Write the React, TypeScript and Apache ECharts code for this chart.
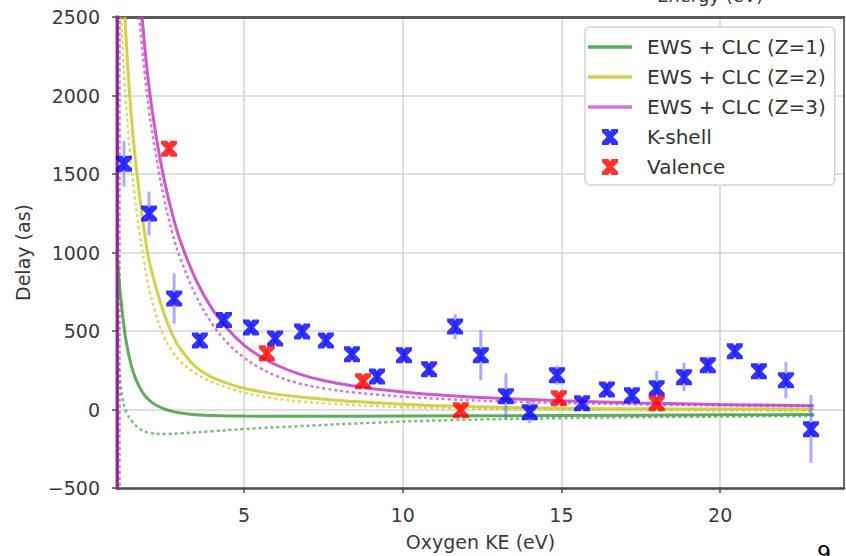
import React, { useEffect, useRef } from "react";
import * as echarts from "echarts";

// ---- data ----
const xTicks = [5, 10, 15, 20];

const kshellX = [1.22, 2.01, 2.8, 3.61, 4.37, 5.22, 5.98, 6.83, 7.58, 8.4, 9.19, 10.04, 10.83, 11.65, 12.46, 13.25, 14.0, 14.86, 15.65, 16.43, 17.22, 18.0, 18.86, 19.61, 20.46, 21.22, 22.07, 22.86];
const kshellY = [1565, 1248, 707, 440, 570, 523, 453, 497, 440, 352, 210, 346, 257, 528, 346, 85, -17, 218, 40, 128, 91, 136, 206, 282, 371, 243, 187, -125];
const kshellErr = [146, 140, 160, 40, 40, 30, 30, 30, 30, 30, 30, 30, 30, 80, 160, 145, 70, 60, 35, 35, 35, 110, 90, 55, 35, 55, 115, 215];

const valenceX = [2.64, 5.72, 8.75, 11.83, 14.92, 18.0];
const valenceY = [1661, 358, 180, -4, 72, 40];
const valenceErr = [20, 20, 20, 20, 20, 20];

const z1Solid: [number, number][] = [[1.0, 1000], [1.1, 750], [1.2, 560], [1.3, 420], [1.45, 280], [1.6, 190], [1.8, 110], [2.0, 62], [2.25, 25], [2.5, 3], [2.75, -12], [3.0, -22], [3.5, -33], [4.0, -38], [5, -42], [7, -43], [10, -42], [15, -38], [20, -34], [22.95, -32]];
const z1Dotted: [number, number][] = [[1.05, 300], [1.16, 85], [1.3, -20], [1.47, -74], [1.7, -120], [2.0, -148], [2.5, -156], [3.0, -152], [4.0, -138], [5.0, -124], [6.73, -106], [9, -85], [11.46, -68], [15, -55], [20, -45], [22.95, -42]];

const z2Solid: [number, number][] = [[1.25, 2500], [1.4, 2000], [1.55, 1650], [1.7, 1380], [1.85, 1150], [2.0, 960], [2.25, 760], [2.5, 600], [2.75, 475], [3.0, 385], [3.5, 268], [4.0, 205], [4.5, 165], [5.0, 135], [5.5, 115], [6.0, 98], [6.75, 80], [7.5, 66], [8.5, 51], [10, 34], [11.5, 22], [13, 14], [15, 8], [18, 4], [22.95, 2]];
const z2Dotted: [number, number][] = [[1.13, 2500], [1.25, 2050], [1.4, 1650], [1.55, 1370], [1.7, 1140], [1.85, 950], [2.0, 780], [2.25, 590], [2.5, 455], [2.75, 368], [3.0, 305], [3.5, 228], [4.0, 175], [4.5, 138], [5.0, 108], [5.5, 86], [6.0, 70], [6.75, 52], [7.5, 40], [8.5, 28], [10, 15], [12, 5], [15, -2], [22.95, -8]];

const z3Pole: [number, number][] = [[1.0, -600], [1.0, 2600]];
const z3Solid: [number, number][] = [[1.79, 2500], [2.0, 2070], [2.25, 1720], [2.5, 1450], [2.75, 1240], [3.0, 1070], [3.5, 820], [4.0, 640], [4.5, 510], [5.0, 410], [5.5, 340], [6.0, 285], [6.75, 225], [7.5, 185], [8.5, 148], [10, 112], [11.5, 88], [13, 72], [15, 56], [17.5, 42], [20, 32], [22.95, 24]];
const z3DottedPole: [number, number][] = [[1.08, -600], [1.08, 2600]];
const z3Dotted: [number, number][] = [[1.7, 2500], [1.95, 2000], [2.2, 1650], [2.5, 1330], [2.75, 1120], [3.0, 960], [3.5, 720], [4.0, 545], [4.5, 420], [5.0, 330], [5.5, 265], [6.0, 215], [6.75, 165], [7.5, 135], [8.5, 108], [10, 82], [11.5, 65], [13, 52], [15, 42], [17.5, 32], [20, 26], [22.95, 20]];

// ---- styling ----
const GREEN = "#3f9f3f";
const YELLOW = "#c9c92a";
const MAGENTA = "#c43cc4";
const BLUE = "#0000ff";
const RED = "#ff0000";
const FONT = "DejaVu Sans";

const MARKER = "path://M0,0 L4,0 L5,1.5 L6,0 L10,0 L10,2 L7,5 L10,8 L10,10 L6,10 L5,8.5 L4,10 L0,10 L0,8 L3,5 L0,2 Z";
const LINE_ICON = "path://M0,0 L44,0 L44,3.5 L0,3.5 Z";

function solid(name: string, color: string, data: [number, number][], z = 2) {
  return {
    type: "line", name, data, color, showSymbol: false, smooth: 0.4, z,
    lineStyle: { color, width: 3, opacity: 0.85 }, emphasis: { disabled: true },
  };
}
function dotted(name: string, color: string, data: [number, number][], z = 2) {
  return {
    type: "line", name, data, color, showSymbol: false, smooth: 0.4, z,
    lineStyle: { color, width: 2.5, type: [3, 3], opacity: 0.7 }, emphasis: { disabled: true },
  };
}
function errorBars(name: string, xs: number[], ys: number[], es: number[], stroke: string) {
  return {
    type: "custom", name, z: 4, clip: true,
    data: xs.map((x, i) => [x, ys[i], es[i]]),
    encode: { x: 0, y: 1 },
    renderItem: (_p: any, api: any) => {
      const x = api.value(0), y = api.value(1), e = api.value(2);
      const a = api.coord([x, y - e]);
      const b = api.coord([x, y + e]);
      return { type: "line", shape: { x1: a[0], y1: a[1], x2: b[0], y2: b[1] }, style: { stroke, lineWidth: 3 } };
    },
  };
}
function markers(name: string, xs: number[], ys: number[], color: string) {
  return {
    type: "scatter", name, z: 5, symbol: MARKER, symbolSize: 16, color,
    data: xs.map((x, i) => [x, ys[i]]),
    itemStyle: { color }, emphasis: { disabled: true },
  };
}

export default function App() {
  const ref = useRef<HTMLDivElement>(null);
  useEffect(() => {
    if (!ref.current) return;
    const chart = echarts.init(ref.current, undefined, { renderer: "svg" });
    const axisText = { color: "#3a3a3a", fontSize: 19, fontFamily: FONT };
    chart.setOption({
      animation: false,
      backgroundColor: "#ffffff",
      grid: { left: 117, right: 2, top: 17, bottom: 66, containLabel: false },
      xAxis: [
        {
          type: "value", min: 1, max: 23.9,
          name: "Oxygen KE (eV)", nameLocation: "middle", nameGap: 44,
          nameTextStyle: { ...axisText },
          axisLine: { show: true, onZero: false, lineStyle: { color: "#4d4d4d", width: 2.5 } },
          axisTick: { show: true, customValues: xTicks, length: 5, lineStyle: { color: "#4d4d4d", width: 1.5 } },
          axisLabel: { customValues: xTicks, margin: 17, ...axisText },
          splitLine: { show: true, lineStyle: { color: "#d6d6d6", width: 1.6 } },
        },
        {
          type: "value", position: "top", min: 1, max: 23.9,
          axisLine: { show: true, onZero: false, lineStyle: { color: "#5a5a5a", width: 3 } },
          axisTick: { show: false }, axisLabel: { show: false }, splitLine: { show: false },
        },
      ],
      yAxis: [
        {
          type: "value", min: -500, max: 2500, interval: 500,
          name: "Delay (as)", nameLocation: "middle", nameGap: 85, nameRotate: 90,
          nameTextStyle: { ...axisText },
          axisLine: { show: true, onZero: false, lineStyle: { color: "#4d4d4d", width: 2.5 } },
          axisTick: { show: true, length: 5, lineStyle: { color: "#4d4d4d", width: 1.5 } },
          axisLabel: { margin: 17, ...axisText, formatter: (v: number) => (v < 0 ? "\u2212" + Math.abs(v) : String(v)) },
          splitLine: { show: true, lineStyle: { color: "#d6d6d6", width: 1.6 } },
        },
        {
          type: "value", position: "right", min: -500, max: 2500,
          axisLine: { show: true, onZero: false, lineStyle: { color: "#6a6a6a", width: 2 } },
          axisTick: { show: false }, axisLabel: { show: false }, splitLine: { show: false },
        },
      ],
      legend: {
        orient: "vertical", left: 585, top: 27,
        padding: [10, 9, 8, 3], itemGap: 10, itemWidth: 44, itemHeight: 16,
        backgroundColor: "#ffffff", borderColor: "#d4d4d4", borderWidth: 1.5, borderRadius: 5,
        textStyle: { color: "#333333", fontSize: 20, fontFamily: FONT, padding: [0, 0, 0, 10] },
        itemStyle: { borderWidth: 0 },
        selectedMode: false,
        data: [
          { name: "EWS + CLC (Z=1)", icon: LINE_ICON, itemStyle: { color: GREEN, opacity: 0.85 } },
          { name: "EWS + CLC (Z=2)", icon: LINE_ICON, itemStyle: { color: YELLOW, opacity: 0.85 } },
          { name: "EWS + CLC (Z=3)", icon: LINE_ICON, itemStyle: { color: "#d65cd6", opacity: 0.85 } },
          { name: "K-shell", icon: MARKER, itemStyle: { color: BLUE } },
          { name: "Valence", icon: MARKER, itemStyle: { color: RED } },
        ],
      },
      graphic: [
        { type: "text", left: 657, top: -14, style: { text: "Energy (eV)", fontSize: 18, fontFamily: FONT, fill: "#3a3a3a" } },
        { type: "text", left: 817, top: 542, style: { text: "9", fontSize: 22, fontFamily: FONT, fill: "#000000" } },
      ],
      series: [
        dotted("z1 dotted", GREEN, z1Dotted),
        dotted("z2 dotted", YELLOW, z2Dotted),
        dotted("z3 dotted", MAGENTA, z3Dotted),
        dotted("z3 dotted pole", MAGENTA, z3DottedPole),
        solid("EWS + CLC (Z=1)", GREEN, z1Solid, 3),
        solid("EWS + CLC (Z=2)", YELLOW, z2Solid, 3),
        solid("EWS + CLC (Z=3)", MAGENTA, z3Solid, 3),
        solid("EWS + CLC (Z=3)", "#9a1a9a", z3Pole, 3),
        errorBars("K-shell err", kshellX, kshellY, kshellErr, "rgba(90,90,255,0.5)"),
        errorBars("Valence err", valenceX, valenceY, valenceErr, "rgba(255,90,90,0.5)"),
        markers("K-shell", kshellX, kshellY, BLUE),
        markers("Valence", valenceX, valenceY, RED),
      ],
    });
    return () => chart.dispose();
  }, []);
  return <div ref={ref} style={{ position: "fixed", left: 0, top: 0, width: 846, height: 556 }} />;
}
